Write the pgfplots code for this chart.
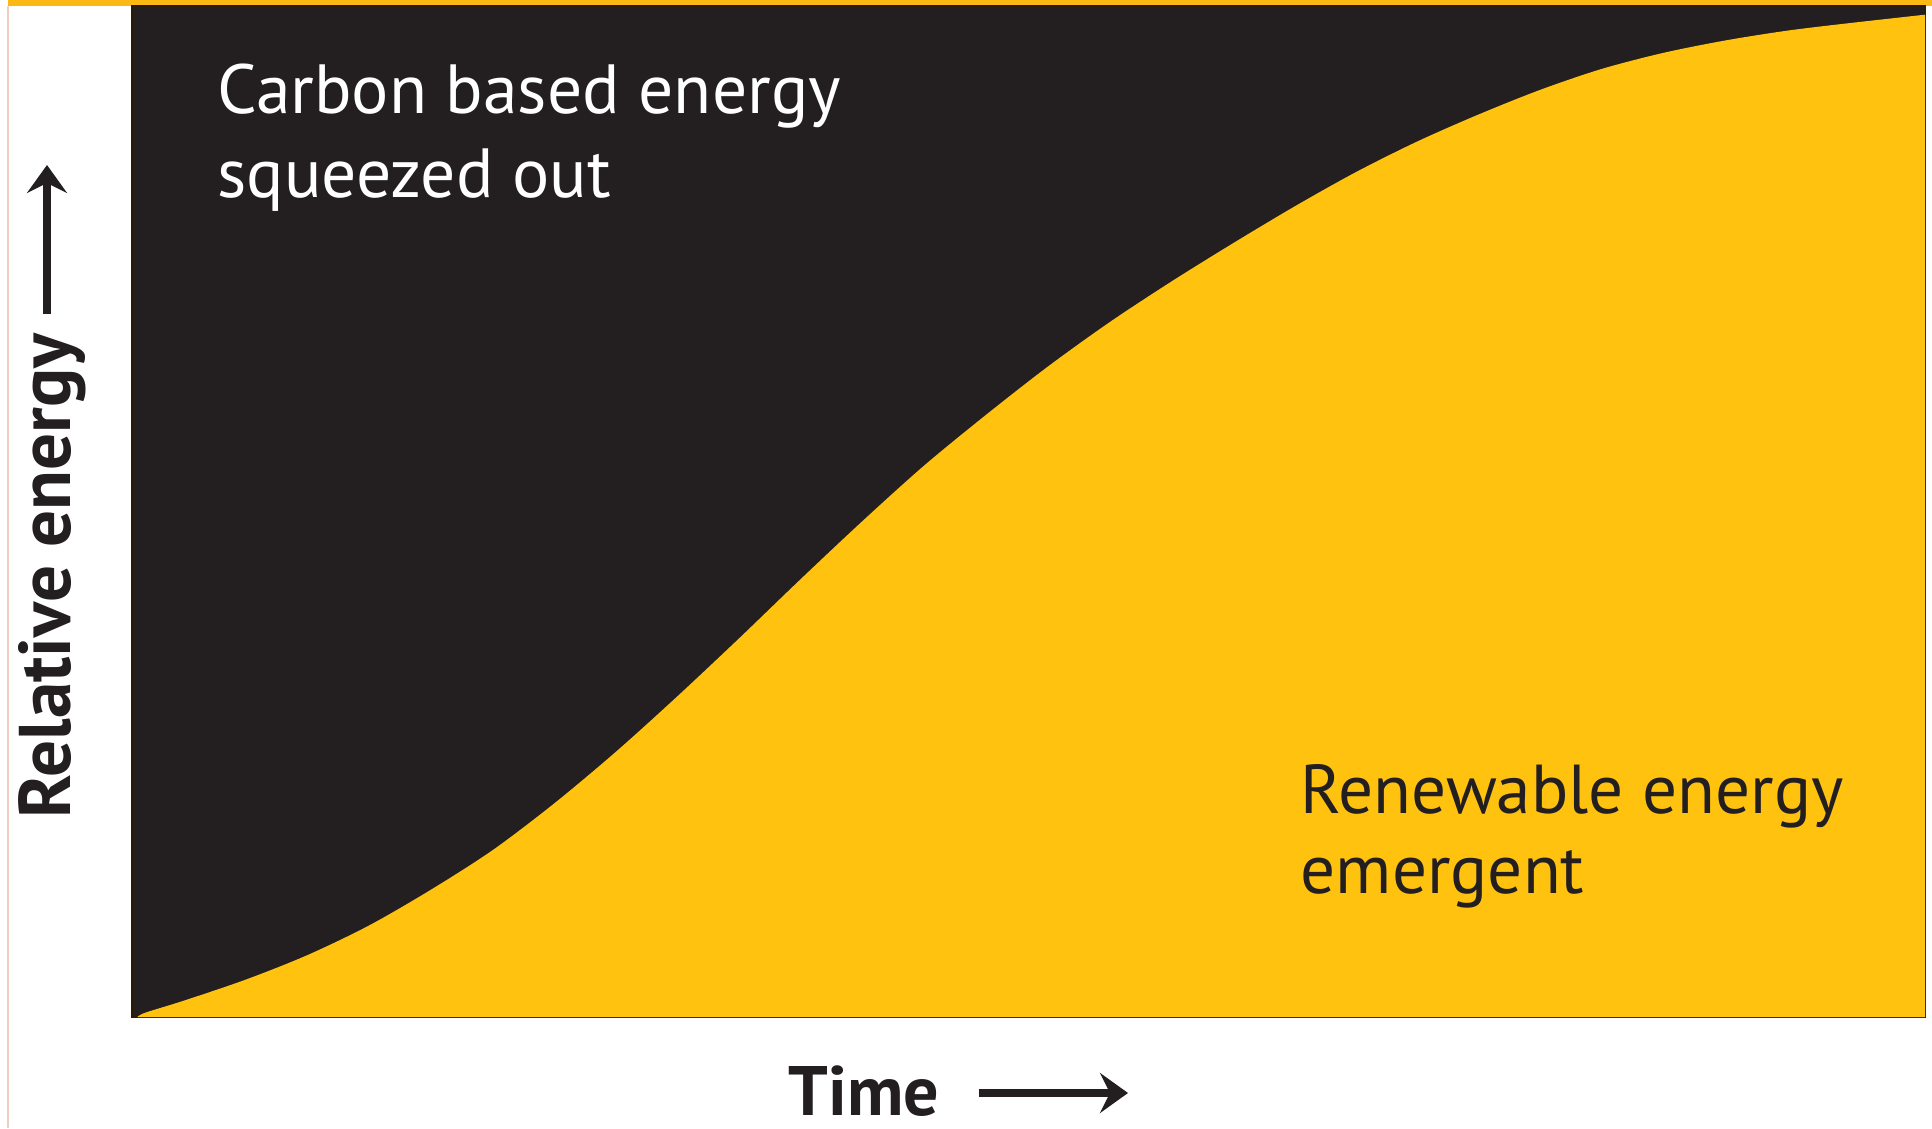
\documentclass[border=0pt]{standalone}
\usepackage{pgfplots}
\pgfplotsset{compat=1.18}
\usepackage{fontspec}
\setmainfont{PT Sans}
\usetikzlibrary{arrows.meta}
\definecolor{cblack}{HTML}{231F20}
\definecolor{cyellow}{HTML}{FEC20F}
\definecolor{cbar}{HTML}{FDB913}
\definecolor{cedge}{HTML}{2A1A08}
\begin{document}
\begin{tikzpicture}
\useasboundingbox (-33pt,-27.75pt) rectangle (450pt,254.25pt);
\fill[cbar] (-31pt,252.75pt) rectangle (450pt,254.25pt);
\draw[color={rgb,255:red,240;green,205;blue,195}, line width=0.3pt] (-31pt,-27.75pt) -- (-31pt,252.75pt);
\begin{axis}[
  scale only axis, width=448.25pt, height=252.75pt,
  xmin=0, xmax=100, ymin=0, ymax=100,
  axis background/.style={fill=cblack},
  xtick=\empty, ytick=\empty,
  axis line style={draw=cedge, line width=0.5pt},
]
\addplot[fill=cyellow, draw=none, smooth, tension=0.5] coordinates {
  (0.3,0) (0.75,0.43) (2.95,1.65) (6.38,3.72) (9.82,6.15) (13.25,9.08)
  (16.69,12.61) (20.12,16.51) (23.56,21.14) (27.00,26.25) (30.43,31.74)
  (33.87,37.47) (37.30,43.32) (40.74,49.05) (44.17,54.53) (47.61,59.53)
  (51.04,64.28) (54.48,68.67) (57.92,72.69) (61.35,76.47) (64.79,80.12)
  (68.22,83.53) (71.66,86.58) (75.09,89.26) (78.53,91.70) (81.96,93.77)
  (85.40,95.36) (88.83,96.58) (92.27,97.55) (95.70,98.29) (100,99.14)
} \closedcycle;
\end{axis}
\node[anchor=base west, text=white, font=\fontsize{17.4}{21}\selectfont, inner sep=0pt] at (21.2pt,226pt) {Carbon based energy};
\node[anchor=base west, text=white, font=\fontsize{17.4}{21}\selectfont, inner sep=0pt] at (21.2pt,205pt) {squeezed out};
\node[anchor=base west, text=cblack, font=\fontsize{17.3}{21}\selectfont, inner sep=0pt] at (292pt,51pt) {Renewable energy};
\node[anchor=base west, text=cblack, font=\fontsize{17.3}{21}\selectfont, inner sep=0pt] at (292pt,31pt) {emergent};
\node[anchor=base west, text=cblack, font=\bfseries\fontsize{17.5}{20}\selectfont, inner sep=0pt] at (164pt,-24.5pt) {Time};
\draw[cblack, line width=2pt, -{Stealth[length=7pt, width=10pt, inset=2.5pt]}] (211.8pt,-19pt) -- (249pt,-19pt);
\node[rotate=90, anchor=base west, text=cblack, font=\bfseries\fontsize{18.3}{21}\selectfont, inner sep=0pt] at (-15.25pt,49.5pt) {Relative energy};
\draw[cblack, line width=2pt, -{Stealth[length=7pt, width=10pt, inset=2.5pt]}] (-21.25pt,175.75pt) -- (-21.25pt,213pt);
\end{tikzpicture}
\end{document}
